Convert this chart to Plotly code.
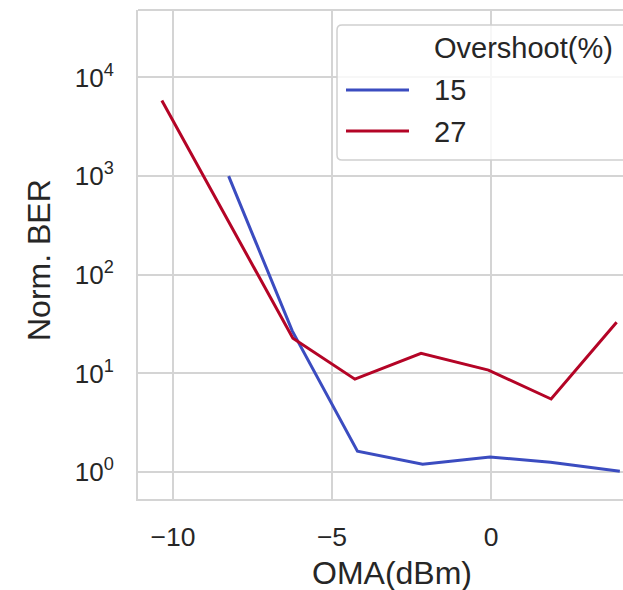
import plotly.graph_objects as go

# ---- data ----
oma_15 = [-8.25, -6.25, -4.2, -2.15, -0.03, 1.87, 4.05]
ber_15 = [1000, 27, 1.63, 1.2, 1.42, 1.26, 1.02]
oma_27 = [-10.35, -6.23, -4.28, -2.2, -0.08, 1.89, 3.95]
ber_27 = [5850, 22.7, 8.75, 16, 10.8, 5.5, 33]
series_names = ["15", "27"]
legend_title = "Overshoot(%)"
x_ticks = [-10, -5, 0]
x_ticktext = ["\u221210", "\u22125", "0"]
y_ticks = [1, 10, 100, 1000, 10000]
y_ticktext = ["10<sup>0</sup>", "10<sup>1</sup>", "10<sup>2</sup>", "10<sup>3</sup>", "10<sup>4</sup>"]
colors = ["#3b4cc0", "#b40426"]

W, H = 623, 590
L, R, T, B = 138, 0, 10, 91
PW, PH = W - L - R, H - T - B
FONT = "Liberation Sans, Arial, sans-serif"
TXT = "#262626"
GRID = "#d4d4d4"

def px(x):
    return (x - L) / PW

def py(y):
    return (H - B - y) / PH

fig = go.Figure()
fig.add_trace(go.Scatter(x=oma_15, y=ber_15, mode="lines", name=series_names[0],
                         line=dict(color=colors[0], width=3), showlegend=False))
fig.add_trace(go.Scatter(x=oma_27, y=ber_27, mode="lines", name=series_names[1],
                         line=dict(color=colors[1], width=3), showlegend=False))

fig.update_layout(
    width=W, height=H,
    margin=dict(l=L, r=R, t=T, b=B, pad=0),
    paper_bgcolor="white", plot_bgcolor="white",
    font=dict(family=FONT, color=TXT),
    showlegend=False,
)
fig.update_xaxes(range=[-11.1, 4.15], tickvals=x_ticks, ticktext=x_ticktext,
                 showgrid=True, gridcolor=GRID, gridwidth=2,
                 showline=True, linecolor=GRID, linewidth=2, zeroline=False,
                 ticks="", tickfont=dict(size=26.5, color=TXT, family=FONT),
                 ticklabelstandoff=13)
fig.update_yaxes(type="log", range=[-0.273, 4.684], tickvals=y_ticks, ticktext=y_ticktext,
                 showgrid=True, gridcolor=GRID, gridwidth=2,
                 showline=True, linecolor=GRID, linewidth=2, zeroline=False,
                 ticks="", tickfont=dict(size=26, color=TXT, family=FONT),
                 ticklabelstandoff=17)

shapes = []
# top spine
shapes.append(dict(type="line", xref="paper", yref="paper", x0=0, x1=1, y0=1, y1=1,
                   line=dict(color=GRID, width=2), layer="below"))

# legend box (rounded)
bx0, bx1, by0, by1, r = 337, 660, 25, 160, 5
def P(x, y):
    return f"{px(x):.5f},{py(y):.5f}"
path = (f"M {P(bx0 + r, by0)} L {P(bx1 - r, by0)} Q {P(bx1, by0)} {P(bx1, by0 + r)} "
        f"L {P(bx1, by1 - r)} Q {P(bx1, by1)} {P(bx1 - r, by1)} "
        f"L {P(bx0 + r, by1)} Q {P(bx0, by1)} {P(bx0, by1 - r)} "
        f"L {P(bx0, by0 + r)} Q {P(bx0, by0)} {P(bx0 + r, by0)} Z")
shapes.append(dict(type="path", xref="paper", yref="paper", path=path,
                   fillcolor="rgba(255,255,255,0.8)", line=dict(color="#d0d0d0", width=1.5),
                   layer="above"))
# legend handles
for i, yy in enumerate([90, 131]):
    shapes.append(dict(type="line", xref="paper", yref="paper",
                       x0=px(346), x1=px(409), y0=py(yy), y1=py(yy),
                       line=dict(color=colors[i], width=3), layer="above"))
fig.update_layout(shapes=shapes)

ann = []
ann.append(dict(text=legend_title, xref="paper", yref="paper", x=px(432), y=py(48),
                xanchor="left", yanchor="middle", showarrow=False,
                font=dict(size=29, color=TXT, family=FONT)))
for name, yy in zip(series_names, [90, 132]):
    ann.append(dict(text=name, xref="paper", yref="paper", x=px(432), y=py(yy),
                    xanchor="left", yanchor="middle", showarrow=False,
                    font=dict(size=29, color=TXT, family=FONT)))
# axis titles
ann.append(dict(text="OMA(dBm)", xref="paper", yref="paper", x=px(392), y=py(573),
                xanchor="center", yanchor="middle", showarrow=False,
                font=dict(size=32, color=TXT, family=FONT)))
ann.append(dict(text="Norm. BER", xref="paper", yref="paper", x=px(39), y=py(260),
                xanchor="center", yanchor="middle", showarrow=False, textangle=-90,
                font=dict(size=32, color=TXT, family=FONT)))
fig.update_layout(annotations=ann)

fig.write_html("out.html")
